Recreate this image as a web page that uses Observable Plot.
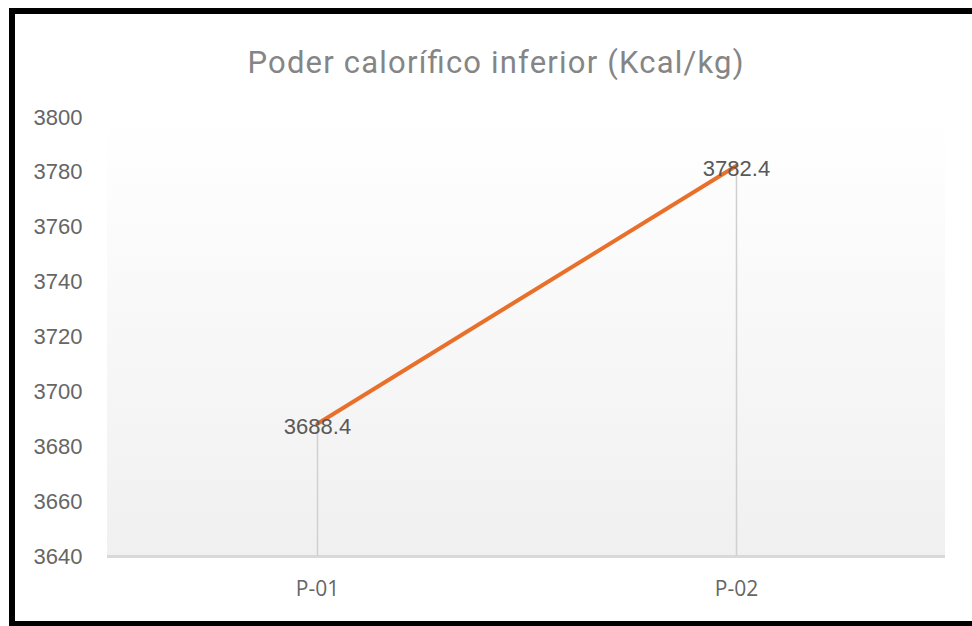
<!DOCTYPE html>
<html><head><meta charset="utf-8">
<script src="https://cdn.jsdelivr.net/npm/d3@7"></script>
<script src="https://cdn.jsdelivr.net/npm/@observablehq/plot@0.6"></script>
<style>
html,body{margin:0;padding:0;background:#fff;overflow:hidden;width:972px;height:626px;}
#wrap{position:relative;width:972px;height:626px;overflow:hidden;}
#chart{position:absolute;left:0;top:0;}
.bd{position:absolute;background:#000;pointer-events:none;}
</style></head><body>
<div id="wrap">
  <div id="chart"></div>
  <div class="bd" style="left:9px;top:8px;width:963px;height:6px;"></div>
  <div class="bd" style="left:9px;top:8px;width:6px;height:618px;"></div>
  <div class="bd" style="left:9px;top:621px;width:963px;height:5px;"></div>
</div>
<script>
const title = "Poder calorífico inferior (Kcal/kg)";
const categories = ["P-01", "P-02"];
const values = [3688.4, 3782.4];
const yTicks = [3640, 3660, 3680, 3700, 3720, 3740, 3760, 3780, 3800];
const yDomain = [3640, 3800];

const data = categories.map((c, i) => ({cat: c, value: values[i]}));

const gradientBg = (index, scales, vals, dimensions) => {
  const {width, height, marginLeft, marginRight, marginTop, marginBottom} = dimensions;
  const g = d3.create("svg:g");
  const lg = g.append("defs").append("linearGradient")
    .attr("id", "bgGrad").attr("x1", 0).attr("y1", 0).attr("x2", 0).attr("y2", 1);
  lg.append("stop").attr("offset", "0%").attr("stop-color", "#ffffff");
  lg.append("stop").attr("offset", "100%").attr("stop-color", "#f0f0f0");
  g.append("rect")
    .attr("x", marginLeft).attr("y", marginTop)
    .attr("width", width - marginLeft - marginRight)
    .attr("height", height - marginTop - marginBottom)
    .attr("fill", "url(#bgGrad)");
  return g.node();
};

const chart = Plot.plot({
  width: 972,
  height: 626,
  marginLeft: 107,
  marginRight: 27,
  marginTop: 117,
  marginBottom: 70,
  style: {color: "#595959", background: "transparent"},
  x: {domain: categories, type: "point", padding: 0.5},
  y: {domain: yDomain},
  marks: [
    gradientBg,
    Plot.ruleY([yDomain[0]], {stroke: "#d9d9d9", strokeWidth: 3}),
    Plot.ruleX(data, {x: "cat", y1: () => yDomain[0], y2: "value", stroke: "#d0d0d0", strokeWidth: 1.5}),
    Plot.line(data, {x: "cat", y: "value", stroke: "#e8702a", strokeWidth: 4}),
    Plot.text(data, {x: "cat", y: "value", text: d => d.value.toFixed(1), fill: "#595959", fontSize: 22, dy: 3, fontFamily: "Liberation Sans, Arial, sans-serif"}),
    Plot.axisY({ticks: yTicks, tickSize: 0, tickPadding: 25, fontSize: 22, fill: "#666666", fontFamily: "Liberation Sans, Arial, sans-serif", tickFormat: d => String(d), label: null}),
    Plot.axisX({tickSize: 0, tickPadding: 25, fontSize: 21, fill: "#666666", fontFamily: "Open Sans, sans-serif", label: null}),
    Plot.text([title], {text: d => d, frameAnchor: "top", dy: -67, dx: -31, fontSize: 31, fill: "#858585", fontFamily: "Roboto, sans-serif", className: "chart-title"})
  ]
});
document.getElementById("chart").appendChild(chart);
const t = chart.querySelector(".chart-title text");
if (t) { t.setAttribute("textLength", 496); t.setAttribute("lengthAdjust", "spacing"); }
</script>
</body></html>
